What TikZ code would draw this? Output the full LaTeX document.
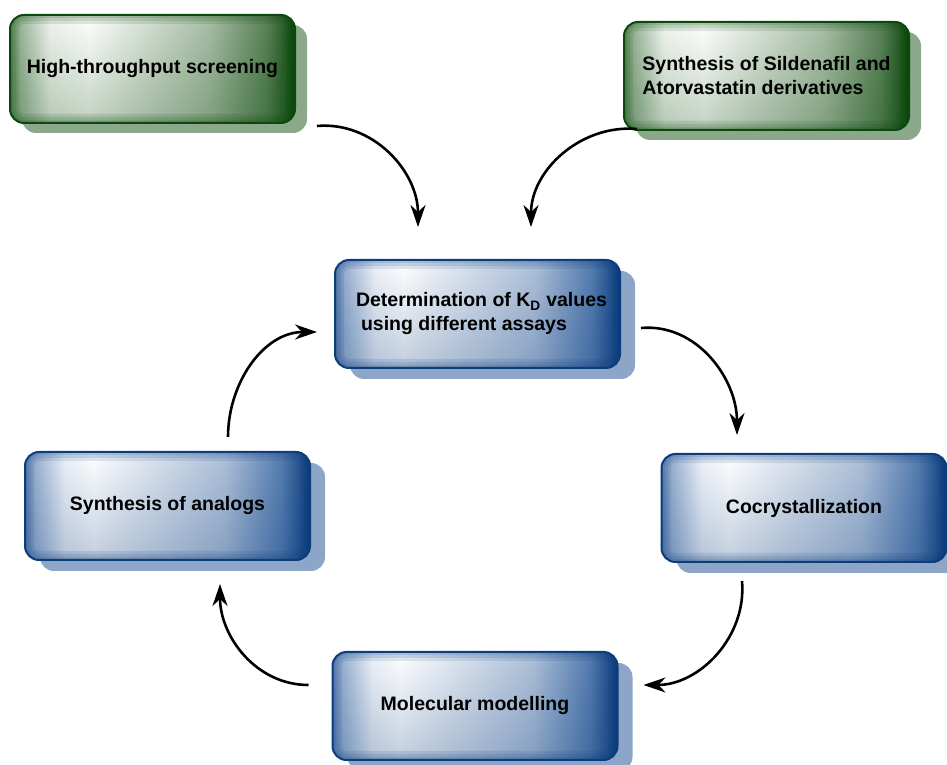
\documentclass[tikz,border=0pt]{standalone}
\usepackage{fontspec}
\setmainfont{Liberation Sans}
\usetikzlibrary{arrows.meta,shadows,fadings}

\definecolor{bluedark}{HTML}{0B3C7C}
\definecolor{blueedge}{HTML}{7F9CC4}
\definecolor{bluelight}{HTML}{EEF2F8}
\definecolor{bluemid}{HTML}{AFC1D9}
\definecolor{bluedeep}{HTML}{557DB0}
\definecolor{blueshadow}{HTML}{8DA5C7}
\definecolor{greendark}{HTML}{0B480B}
\definecolor{greenedge}{HTML}{7FA17E}
\definecolor{greenlight}{HTML}{F0F4EF}
\definecolor{greenmid}{HTML}{A8BEA6}
\definecolor{greendeep}{HTML}{5A8258}
\definecolor{greenshadow}{HTML}{8BA98A}

\pgfdeclarehorizontalshading{blueglow}{100bp}{color(0bp)=(blueedge); color(25bp)=(blueedge); color(32bp)=(bluelight); color(37bp)=(white); color(60bp)=(bluemid); color(70bp)=(bluedeep); color(75bp)=(bluedark); color(100bp)=(bluedark)}
\pgfdeclarehorizontalshading{greenglow}{100bp}{color(0bp)=(greenedge); color(25bp)=(greenedge); color(32bp)=(greenlight); color(39bp)=(white); color(60bp)=(greenmid); color(70bp)=(greendeep); color(75bp)=(greendark); color(100bp)=(greendark)}
\tikzfading[name=lowfade, top color=transparent!100, middle color=transparent!100, bottom color=transparent!50]

\tikzset{
  box/.style={rounded corners=14pt, minimum width=285pt, minimum height=108pt,
    draw=#1, line width=2pt, align=left,
    font=\bfseries\fontsize{19.5}{24}\selectfont,
    path picture={
      \fill[#1, path fading=lowfade, fill opacity=0.5]
        (path picture bounding box.south west) rectangle (path picture bounding box.north east);
      \foreach \w in {18,12,6}{
      \draw[line width=\w pt, draw=#1, opacity=0.12, rounded corners=14pt]
        (path picture bounding box.south west) rectangle (path picture bounding box.north east);}}},
  bluebox/.style={box=bluedark, shade, shading=blueglow,
    general shadow={fill=blueshadow, shadow xshift=15pt, shadow yshift=-11pt}},
  greenbox/.style={box=greendark, shade, shading=greenglow,
    general shadow={fill=greenshadow, shadow xshift=12pt, shadow yshift=-10pt}},
  flow/.style={line width=2.6pt, -{Stealth[length=22pt,width=15pt,inset=7pt]}}
}

\begin{document}
\begin{tikzpicture}[x=1pt,y=1pt]
\useasboundingbox (0,0) rectangle (947,765);
\node[greenbox] (hts) at (152.5,696) {High-throughput screening};
\node[greenbox] (syn) at (766.5,689) {Synthesis of Sildenafil and\\Atorvastatin derivatives};
\node[bluebox] (kd) at (477.5,451) {\hspace*{8pt}Determination of K\textsubscript{D} values\\\hspace*{13pt}using different assays};
\node[bluebox] (cocr) at (804,257) {Cocrystallization};
\node[bluebox] (analog) at (167.5,259) {Synthesis of analogs};
\node[bluebox] (model) at (475,59) {Molecular modelling};

\draw[flow] ([shift={(21,-2)}]hts.south east) to[out=5,in=90] ([shift={(-59.5,32)}]kd.north);
\draw[flow] ([shift={(14,2)}]syn.south west) to[out=175,in=90] ([shift={(53.5,32)}]kd.north);
\draw[flow] ([shift={(20,-14)}]kd.east) to[out=5,in=90] ([shift={(-67,18)}]cocr.north);
\draw[flow] ([shift={(-62,-18)}]cocr.south) to[out=-85,in=0] ([shift={(25,21)}]model.east);
\draw[flow] ([shift={(-23,21)}]model.west) to[out=180,in=-90] ([shift={(52.5,-23)}]analog.south);
\draw[flow] ([shift={(60.5,14)}]analog.north) to[out=90,in=180] ([shift={(-17,-18)}]kd.west);
\end{tikzpicture}
\end{document}
